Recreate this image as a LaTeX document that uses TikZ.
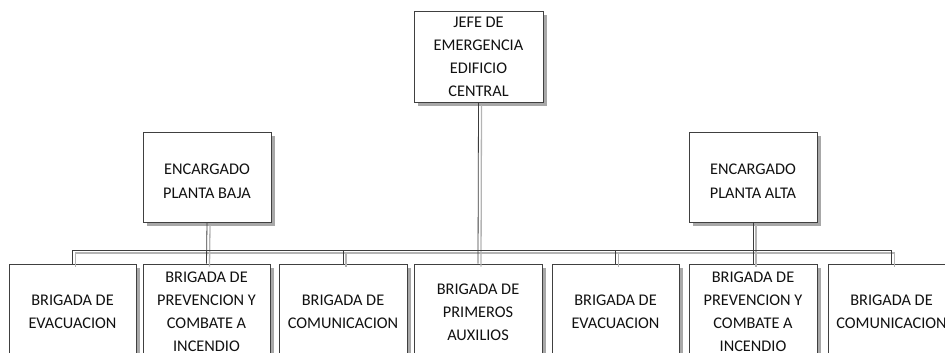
\documentclass[tikz,border=0pt]{standalone}
\usepackage{fontspec}
\setmainfont{Carlito}
\usetikzlibrary{shadows}
\definecolor{linedark}{HTML}{3C3C3C}
\definecolor{lineshadow}{HTML}{B4B4B4}
\definecolor{boxshadow}{HTML}{A8A8A8}
\definecolor{boxborder}{HTML}{404040}
\definecolor{txt}{HTML}{111111}
\newcommand{\lowertext}[2]{\raisebox{-#1}[\height][\depth]{\begin{tabular}{@{}c@{}}#2\end{tabular}}}
\begin{document}
\begin{tikzpicture}[x=1pt,y=-1pt,
  orgbox/.style={draw=boxborder, line width=0.8pt, fill=white, align=center,
    inner sep=0pt, text=txt, font=\fontsize{16.3}{23}\selectfont,
    drop shadow={shadow xshift=4pt, shadow yshift=-4pt, fill=boxshadow, opacity=1}},
  conn/.style={draw=linedark, line width=0.8pt},
  connshadow/.style={draw=lineshadow, line width=1.3pt, transform canvas={shift={(3pt,-3pt)}}}
]
\useasboundingbox (0,0) rectangle (945,353);
\clip (0,0) rectangle (945,353);
% nodes
\node[orgbox, minimum width=129, minimum height=91] (jefe) at (478.5,56.5) {JEFE DE\\EMERGENCIA\\EDIFICIO\\CENTRAL};
\node[orgbox, minimum width=128, minimum height=90] (baja) at (207,177) {\lowertext{4.5pt}{ENCARGADO\\[1pt]PLANTA BAJA}};
\node[orgbox, minimum width=128, minimum height=90] (alta) at (753,177) {\lowertext{4.5pt}{ENCARGADO\\[1pt]PLANTA ALTA}};
\node[orgbox, minimum width=127, minimum height=96] (b1) at (72.5,312) {BRIGADA DE\\EVACUACION};
\node[orgbox, minimum width=127, minimum height=96] (b2) at (206.5,312) {BRIGADA DE\\PREVENCION Y\\COMBATE A\\INCENDIO};
\node[orgbox, minimum width=128, minimum height=96] (b3) at (343,312) {BRIGADA DE\\COMUNICACION};
\node[orgbox, minimum width=128, minimum height=96] (b4) at (478,312) {BRIGADA DE\\PRIMEROS\\AUXILIOS};
\node[orgbox, minimum width=127, minimum height=96] (b5) at (615.5,312) {BRIGADA DE\\EVACUACION};
\node[orgbox, minimum width=128, minimum height=96] (b6) at (753,312) {BRIGADA DE\\PREVENCION Y\\COMBATE A\\INCENDIO};
\node[orgbox, minimum width=127, minimum height=96] (b7) at (891.5,312) {BRIGADA DE\\COMUNICACION};
\coordinate (bus) at (0,250);
% connectors (shadow first, then line)
\foreach \s in {connshadow, conn}{
  \draw[\s] (jefe.south) -- (b4.north);
  \draw[\s] (baja.south) -- (b2.north);
  \draw[\s] (alta.south) -- (b6.north);
  \draw[\s] (b1.north) -- (b1.north |- bus) -- (b7.north |- bus) -- (b7.north);
  \draw[\s] (b3.north |- bus) -- (b3.north);
  \draw[\s] (b5.north |- bus) -- (b5.north);
}
\end{tikzpicture}
\end{document}
